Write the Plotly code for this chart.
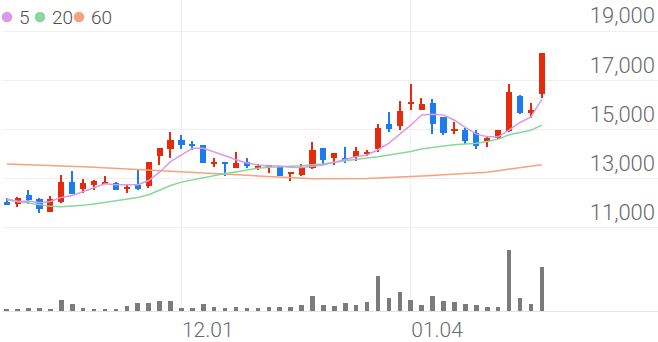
import plotly.graph_objects as go

dates = ["11.09","11.10","11.11","11.12","11.13","11.16","11.17","11.18","11.19","11.20",
         "11.23","11.24","11.25","11.26","11.27","11.30","12.01","12.02","12.03","12.04",
         "12.07","12.08","12.09","12.10","12.11","12.14","12.15","12.16","12.17","12.18",
         "12.21","12.22","12.23","12.24","12.28","12.29","12.30","01.04","01.05","01.06",
         "01.07","01.08","01.11","01.12","01.13","01.14","01.15","01.18","01.19","01.20"]

open_ = [12070,11950,12330,12180,11650,12050,12880,12590,12750,12800,
         12820,12600,12760,12720,13930,14200,14570,14420,14370,13630,
         13690,13450,13690,13470,13480,13500,13190,13150,13420,14230,
         13840,13840,13890,14000,14200,15240,15150,16070,15780,16060,
         15510,14920,14970,14840,14570,14650,14940,16360,15690,16430]
high = [12220,12250,12520,12220,12290,13130,13300,12990,12940,13090,
        12850,12780,13400,13690,14250,14880,14770,14540,14370,13840,
        13690,14070,13830,13600,13560,13500,13260,13600,14500,14230,
        14040,14270,14300,14160,15210,15710,16160,16860,16290,16250,
        15510,15310,15080,14970,14740,14970,16860,16400,16090,18110]
low = [11910,11850,11980,11600,11640,12020,12360,12430,12540,12800,
       12520,12430,12520,12630,13570,13830,14200,14180,13640,13490,
       13090,13450,13420,13360,13220,13120,12920,13100,13400,13560,
       13560,13640,13730,13910,14100,14900,14970,15780,15780,14810,
       14780,14810,14410,14200,14300,14610,14880,15620,15460,16290]
close = [11940,12220,12120,11750,12180,12880,12390,12820,12920,12880,
         12550,12640,12590,13670,14230,14580,14370,14340,13640,13690,
         13610,13630,13530,13530,13530,13120,13240,13460,14180,13760,
         14030,13730,14140,14100,15080,15010,15750,16130,16020,15240,
         14840,15010,14540,14340,14650,14970,16520,15650,15790,18110]

ma5 = [12144,12075,12091,12022,12075,12237,12317,12479,12617,12790,
       12750,12750,12750,12923,13263,13691,13974,14232,14232,14095,
       13933,13772,13638,13558,13517,13517,13465,13449,13489,13558,
       13667,13772,13893,13962,14176,14446,14810,15174,15590,15618,
       15590,15376,15081,14810,14701,14701,14972,15283,15509,16224]
ma20 = [12184,12075,12010,11942,11873,11861,11873,11914,11970,12035,
        12103,12156,12232,12346,12548,12721,12859,12952,13045,13125,
        13206,13275,13356,13424,13465,13477,13505,13529,13570,13598,
        13667,13731,13800,13840,13893,13962,14042,14103,14204,14273,
        14325,14378,14406,14435,14515,14608,14782,14879,14972,15174]
ma60 = [13598,13586,13570,13550,13529,13517,13501,13485,13465,13444,
        13424,13404,13380,13356,13335,13315,13295,13275,13255,13234,
        13202,13174,13142,13113,13085,13061,13032,13012,13000,12992,
        12992,12992,13000,13008,13024,13040,13065,13089,13109,13129,
        13154,13178,13202,13230,13263,13323,13388,13444,13501,13566]

volume = [50000,40000,80000,80000,70000,330000,210000,90000,50000,70000,
          50000,140000,250000,250000,300000,300000,100000,90000,200000,110000,
          100000,110000,90000,100000,130000,120000,130000,190000,460000,180000,
          140000,250000,170000,260000,1050000,400000,560000,330000,170000,460000,
          300000,270000,220000,180000,120000,110000,1830000,380000,200000,1320000]

tick_labels = ["12.01", "01.04"]
y_ticks = [11000, 13000, 15000, 17000, 19000]
legend_labels = ["5", "20", "60"]

RED = "#e42b0c"
BLUE = "#1b7bef"
MA_COLORS = ["#d89bec", "#88d89c", "#f6a27c"]

colors = [RED if c >= o else BLUE for o, c in zip(open_, close)]
body_base = [min(o, c) for o, c in zip(open_, close)]
body_h = [max(abs(c - o), 40) for o, c in zip(open_, close)]
wick_h = [h - l for h, l in zip(high, low)]

fig = go.Figure()
fig.add_trace(go.Bar(x=dates, y=volume, yaxis="y2", marker=dict(color="#7b7b7b", line=dict(width=0)),
                     width=0.42, showlegend=False, hoverinfo="skip"))
fig.add_trace(go.Scatter(x=dates, y=ma60, mode="lines", line=dict(color=MA_COLORS[2], width=1.5), showlegend=False))
fig.add_trace(go.Scatter(x=dates, y=ma20, mode="lines", line=dict(color=MA_COLORS[1], width=1.5), showlegend=False))
fig.add_trace(go.Bar(x=dates, y=wick_h, base=low, marker=dict(color=colors, line=dict(width=0)),
                     width=0.13, showlegend=False))
fig.add_trace(go.Bar(x=dates, y=body_h, base=body_base, marker=dict(color=colors, line=dict(width=0)),
                     width=0.56, showlegend=False))
fig.add_trace(go.Scatter(x=dates, y=ma5, mode="lines", line=dict(color=MA_COLORS[0], width=1.5), showlegend=False))

# legend (dots + labels)
dot_px = [4, 37, 76]
txt_px = [14, 47, 86]
for i, lab in enumerate(legend_labels):
    fig.add_shape(type="circle", xref="paper", yref="paper", xsizemode="pixel", ysizemode="pixel",
                  xanchor=0, yanchor=1, x0=dot_px[i] - 5.3, x1=dot_px[i] + 5.3, y0=-22.3, y1=-11.7,
                  fillcolor=MA_COLORS[i], line=dict(width=0))
    fig.add_annotation(text=lab, xref="paper", yref="paper", x=0, y=1, xanchor="left", yanchor="middle",
                       xshift=txt_px[i], yshift=-17, showarrow=False,
                       font=dict(family="Roboto", size=19, color="#4f4f4f", weight=300))

fig.update_layout(
    width=658, height=342,
    margin=dict(l=3, r=0, t=0, b=29),
    paper_bgcolor="white", plot_bgcolor="white",
    barmode="overlay", bargap=0,
    showlegend=False,
    xaxis=dict(type="category", range=[-0.34, 59.64], tickvals=tick_labels, ticktext=tick_labels,
               showgrid=True, gridcolor="#f0f0f0", gridwidth=1, showline=True, linecolor="#e4e4e4",
               linewidth=1, ticks="", ticklabelposition="outside right",
               tickfont=dict(family="Roboto", size=21, color="#6a6a6a", weight=300), zeroline=False),
    yaxis=dict(side="right", range=[7619, 20264], tickvals=y_ticks, tickformat=",",
               showgrid=True, gridcolor="#f0f0f0", gridwidth=1, ticks="", zeroline=False,
               ticklabelposition="inside top",
               tickfont=dict(family="Roboto", size=22, color="#6a6a6a", weight=300)),
    yaxis2=dict(overlaying="y", range=[0, 9390000], visible=False, showgrid=False),
)

fig.write_html("out.html")
